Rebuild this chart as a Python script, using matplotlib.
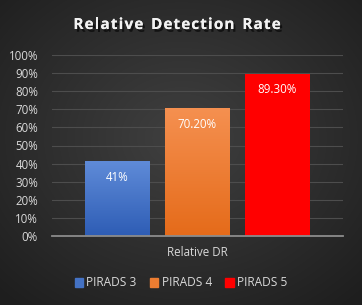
import numpy as np
import matplotlib
matplotlib.use("Agg")
import matplotlib.pyplot as plt
import matplotlib.patheffects as pe
from matplotlib.colors import LinearSegmentedColormap

series = ["PIRADS 3", "PIRADS 4", "PIRADS 5"]
values = [41.0, 70.2, 89.3]
value_labels = ["41%", "70.20%", "89.30%"]
category = "Relative DR"
title = "Relative Detection Rate"
colors_top = ["#5f8bd8", "#f59050", "#ff0000"]
colors_bot = ["#2e5db5", "#e56b1a", "#ff0000"]
legend_colors = ["#4472c4", "#ed7d31", "#ff0000"]

W, H = 362, 305
fig = plt.figure(figsize=(W / 100, H / 100), dpi=100)

# radial dark background
bg = fig.add_axes([0, 0, 1, 1])
yy, xx = np.mgrid[0:H, 0:W]
r = np.sqrt(((xx - W * 0.5) / (W * 0.6)) ** 2 + ((yy - H * 0.45) / (H * 0.6)) ** 2)
shade = np.clip(0.25 - 0.11 * r, 0.12, 0.25)
bg.imshow(np.dstack([shade] * 3), extent=[0, W, H, 0], aspect="auto")
bg.set_xlim(0, W)
bg.set_ylim(H, 0)
bg.axis("off")

# plot area: x 52..343, y 55..236 px
ax = fig.add_axes([52 / W, 1 - 236 / H, 291 / W, 181 / H])
ax.set_facecolor("none")

bw = 65 / 291
offs = [-80 / 291, 0, 80 / 291]
for i, v in enumerate(values):
    x0 = offs[i] - bw / 2
    cmap = LinearSegmentedColormap.from_list("g", [colors_bot[i], colors_top[i]])
    grad = np.linspace(0, 1, 100).reshape(-1, 1)
    ax.imshow(grad, cmap=cmap, origin="lower", aspect="auto",
              extent=[x0, x0 + bw, 0, v], zorder=3)
    ax.text(offs[i], v - 8.5, value_labels[i], ha="center", va="center",
            color="white", fontsize=8.3, family="Open Sans", zorder=4)
ax.set_xlim(-0.5, 0.5)
ax.set_ylim(0, 100)

ax.set_yticks(np.arange(0, 101, 10))
ax.set_yticklabels([f"{t}%" for t in range(0, 101, 10)])
ax.yaxis.grid(True, color="#4d4d4d", linewidth=0.8)
ax.set_axisbelow(True)
ax.tick_params(axis="y", length=0, colors="#d9d9d9", labelsize=8.3, pad=10)
for lab in ax.get_yticklabels():
    lab.set_family("Open Sans")
ax.set_xticks([])
for s in ["top", "right", "left"]:
    ax.spines[s].set_visible(False)
ax.spines["bottom"].set_color("#8c8c8c")
ax.spines["bottom"].set_linewidth(1.3)
ax.spines["bottom"].set_zorder(5)

fig.text(197.5 / W, 1 - 253 / H, category, ha="center", va="center",
         color="#d9d9d9", fontsize=8.3, family="Open Sans")

# title with letter spacing (drawn char by char)
renderer = fig.canvas.get_renderer()
tkw = dict(color="#f2f2f2", fontsize=11, fontweight="bold", family="Open Sans",
           va="center", ha="left",
           path_effects=[pe.withSimplePatchShadow(offset=(1.5, -2), shadow_rgbFace="black", alpha=0.6),
                         pe.Normal()])
widths = []
for ch in title:
    t = fig.text(0, 0, ch if ch != " " else "n", **tkw)
    widths.append(t.get_window_extent(renderer).width * (0.55 if ch == " " else 1))
    t.remove()
track = 1.15
total = sum(widths) + track * (len(title) - 1)
xpos = 177 - total / 2
for ch, w in zip(title, widths):
    if ch != " ":
        fig.text(xpos / W, 1 - 25 / H, ch, **tkw)
    xpos += w + track

handles = [plt.Rectangle((0, 0), 1, 1, color=c) for c in legend_colors]
leg = fig.legend(handles, series, loc="center", bbox_to_anchor=(181 / W, 1 - 283 / H),
                 ncol=3, frameon=False, handlelength=0.7, handleheight=0.7,
                 handletextpad=0.3, columnspacing=1.1,
                 prop={"family": "Open Sans", "size": 8.6})
for t in leg.get_texts():
    t.set_color("#d9d9d9")

fig.savefig("out.png", dpi=100, facecolor="#262626")
